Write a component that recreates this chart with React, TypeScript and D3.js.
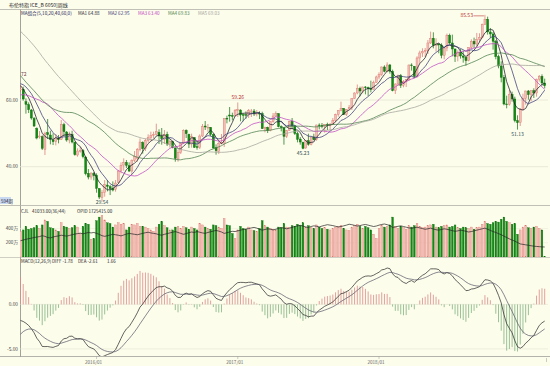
import React from 'react';
import * as d3 from 'd3';

// ---------- data (weekly, first week starts Monday 2015-06-22) ----------
const firstWeek = new Date(2015, 5, 22);

const opens = [
  63.0, 63.2, 59.5, 58.6, 57.0, 54.5, 51.5, 48.9, 49.0, 45.2,
  50.2, 49.5, 48.0, 47.6, 48.6, 48.2, 52.6, 50.4, 48.0, 49.6,
  47.3, 43.5, 44.6, 44.8, 42.9, 38.0, 36.9, 38.0, 37.4, 33.4,
  30.8, 32.3, 34.5, 34.0, 33.4, 33.2, 35.3, 38.8, 40.5, 41.3,
  40.3, 38.7, 41.9, 42.5, 45.1, 47.3, 45.4, 47.8, 48.7, 49.5,
  49.6, 50.3, 49.2, 48.2, 49.7, 46.8, 47.5, 45.6, 42.3, 44.2,
  47.0, 50.9, 49.7, 46.8, 48.7, 46.0, 45.7, 49.2, 52.2, 51.8,
  51.8, 49.6, 45.7, 44.6, 46.9, 47.1, 54.5, 55.5, 55.3, 55.3,
  56.8, 57.0, 55.6, 55.6, 55.5, 56.7, 56.7, 55.8, 56.0, 55.9,
  51.3, 51.8, 50.8, 53.5, 55.2, 55.9, 52.0, 51.7, 49.1, 50.8,
  53.6, 52.2, 49.9, 48.3, 47.3, 45.6, 47.8, 46.7, 48.9, 48.1,
  52.5, 52.4, 52.1, 52.6, 52.4, 52.8, 53.8, 55.6, 56.9, 57.5,
  55.6, 57.3, 57.8, 60.4, 62.1, 63.5, 62.7, 63.9, 63.7, 63.4,
  63.2, 65.3, 66.9, 67.6, 69.9, 68.6, 70.5, 68.6, 62.8, 64.8,
  67.3, 64.4, 65.5, 66.2, 70.5, 70.1, 67.1, 72.6, 74.1, 74.6,
  74.9, 77.1, 78.5, 76.4, 76.8, 76.5, 73.4, 75.6, 79.4, 77.1,
  75.3, 73.1, 74.3, 73.2, 72.8, 71.8, 75.8, 77.6, 76.8, 78.1,
  78.8, 82.7, 84.2, 80.4, 79.8, 77.6, 73.0, 70.2, 66.8, 58.8,
  58.7, 61.7, 60.3, 53.8, 53.2, 57.1, 60.5, 62.7, 61.6, 62.8,
  62.1, 66.25, 67.1, 65.1,
];

const highs = [
  64.5, 64.0, 60.5, 59.3, 57.3, 54.9, 51.8, 50.7, 49.4, 50.5,
  54.3, 50.8, 50.0, 49.8, 49.5, 54.0, 53.2, 50.7, 50.5, 50.8,
  47.5, 45.5, 46.0, 45.3, 43.1, 39.3, 38.3, 38.4, 38.0, 33.6,
  33.0, 36.0, 36.0, 34.5, 35.6, 36.0, 39.0, 41.3, 42.5, 42.0,
  41.3, 42.2, 44.7, 45.6, 48.5, 47.6, 48.4, 49.7, 50.5, 50.5,
  52.9, 51.2, 51.6, 51.0, 50.5, 48.2, 47.8, 46.1, 45.1, 47.3,
  51.2, 51.2, 49.9, 49.9, 48.9, 47.8, 49.7, 52.8, 53.7, 52.8,
  51.9, 49.9, 46.7, 47.6, 49.8, 54.5, 55.3, 57.9, 56.2, 57.3,
  59.26, 57.2, 56.0, 56.6, 57.3, 57.3, 57.3, 57.0, 56.6, 56.5,
  52.0, 52.0, 53.6, 56.1, 56.6, 56.0, 52.4, 51.8, 51.0, 53.7,
  54.6, 52.5, 50.5, 48.9, 47.5, 48.0, 49.9, 49.0, 49.9, 52.6,
  53.0, 53.1, 52.8, 53.2, 53.0, 54.6, 55.9, 57.0, 59.5, 57.5,
  57.3, 58.5, 60.5, 62.3, 64.65, 64.0, 64.0, 64.2, 64.0, 65.8,
  65.8, 67.3, 68.3, 70.05, 70.4, 71.3, 70.8, 69.1, 65.0, 67.6,
  67.8, 66.0, 66.3, 70.6, 71.0, 70.2, 73.1, 74.8, 75.5, 75.6,
  78.0, 80.5, 80.3, 78.5, 77.0, 77.0, 75.7, 79.9, 79.9, 79.6,
  75.4, 74.9, 75.3, 74.8, 73.0, 75.8, 78.2, 78.7, 80.1, 80.0,
  82.9, 85.53, 85.0, 81.6, 80.4, 78.0, 73.6, 71.6, 67.5, 61.3,
  63.0, 62.5, 61.0, 55.4, 57.6, 61.9, 62.8, 63.0, 62.9, 63.5,
  66.4, 67.5, 67.7, 66.4,
];

const lows = [
  62.4, 59.8, 55.9, 56.1, 54.1, 51.9, 48.2, 48.4, 45.0, 43.5,
  48.3, 46.7, 46.5, 46.4, 47.0, 48.0, 49.2, 47.5, 47.0, 47.0,
  43.3, 43.0, 44.2, 42.5, 37.4, 36.2, 36.1, 35.9, 32.2, 30.3,
  29.54, 31.0, 32.6, 31.5, 32.6, 32.5, 35.0, 38.0, 38.8, 39.6,
  38.4, 37.6, 41.4, 41.5, 44.6, 43.9, 44.7, 47.2, 47.8, 48.4,
  49.3, 46.8, 46.6, 46.8, 46.2, 45.7, 45.5, 41.5, 41.5, 43.8,
  46.8, 48.6, 45.6, 45.7, 45.6, 45.1, 45.3, 48.9, 51.0, 50.5,
  49.1, 45.4, 43.6, 43.8, 46.7, 45.9, 53.0, 53.5, 53.9, 55.1,
  54.9, 53.6, 53.6, 54.4, 54.6, 54.9, 55.2, 55.1, 54.3, 51.4,
  50.3, 50.1, 50.6, 53.2, 55.0, 51.8, 50.6, 46.6, 48.6, 50.8,
  51.2, 49.5, 47.3, 46.6, 45.23, 45.4, 46.3, 46.4, 47.9, 47.8,
  51.2, 51.5, 50.2, 51.0, 50.8, 52.5, 53.3, 55.0, 56.6, 55.5,
  55.2, 57.2, 57.0, 60.3, 61.7, 61.1, 62.0, 61.7, 61.2, 62.3,
  63.2, 65.2, 66.2, 67.2, 68.3, 68.3, 67.9, 62.6, 61.8, 64.2,
  63.6, 63.8, 63.9, 65.7, 68.8, 66.6, 66.7, 70.9, 72.9, 72.9,
  73.8, 76.8, 75.5, 74.5, 74.0, 72.5, 72.2, 74.6, 76.6, 73.1,
  71.4, 71.6, 72.4, 71.2, 70.3, 71.6, 75.4, 75.6, 76.0, 77.3,
  78.5, 82.5, 79.6, 78.6, 75.1, 72.2, 69.5, 65.3, 58.4, 57.5,
  58.3, 59.5, 53.3, 51.13, 52.2, 56.9, 58.6, 60.1, 59.6, 60.6,
  61.0, 65.5, 64.3, 63.5,
];

const closes = [
  63.3, 60.3, 58.7, 57.1, 54.6, 52.2, 48.6, 49.2, 45.5, 50.0,
  49.6, 48.1, 47.5, 48.6, 48.1, 52.7, 50.5, 48.0, 49.6, 47.4,
  43.6, 44.7, 44.9, 43.0, 37.9, 36.9, 38.1, 37.3, 33.5, 30.9,
  32.2, 34.7, 34.1, 33.4, 33.0, 35.1, 38.7, 40.4, 41.2, 40.4,
  38.7, 41.9, 43.1, 45.1, 47.4, 45.4, 47.8, 48.7, 49.3, 49.6,
  50.5, 49.2, 48.4, 49.7, 46.8, 47.6, 45.7, 42.5, 44.3, 47.0,
  50.9, 49.9, 46.8, 49.0, 45.8, 45.9, 49.2, 52.0, 51.9, 51.8,
  49.7, 45.6, 44.8, 46.9, 47.2, 54.5, 54.3, 55.2, 55.2, 56.8,
  57.1, 55.5, 55.5, 55.5, 56.8, 56.7, 55.8, 56.0, 55.9, 51.4,
  51.8, 50.8, 53.5, 55.2, 55.9, 52.0, 51.7, 49.1, 50.8, 53.6,
  52.2, 49.95, 48.2, 47.4, 45.5, 47.9, 46.7, 48.9, 48.1, 52.5,
  52.4, 52.1, 52.7, 52.4, 52.8, 53.8, 55.6, 56.9, 57.5, 55.6,
  57.2, 57.75, 60.4, 62.1, 63.5, 62.7, 63.9, 63.7, 63.4, 63.2,
  65.25, 66.9, 67.6, 69.9, 68.6, 70.5, 68.6, 62.8, 64.8, 67.3,
  64.4, 65.5, 66.2, 70.5, 70.3, 67.1, 72.6, 74.1, 74.6, 74.9,
  77.1, 78.5, 76.4, 76.8, 76.5, 73.4, 75.6, 79.4, 77.1, 75.3,
  73.1, 74.3, 73.2, 72.8, 71.8, 75.8, 77.6, 76.8, 78.1, 78.8,
  82.7, 84.2, 80.4, 79.8, 77.6, 73.0, 70.2, 66.8, 58.8, 58.7,
  61.7, 60.3, 53.8, 53.2, 57.1, 60.5, 62.7, 61.6, 62.8, 62.1,
  66.25, 67.1, 65.1, 64.3,
];

// weekly closes before the visible window (used by moving averages / MACD)
const priorCloses = [
  109.6, 108.6, 107.9, 109.8, 110.5, 108.4, 108.6, 113.0, 114.8, 113.3,
  110.6, 106.7, 107.2, 108.4, 105.0, 105.0, 103.5, 102.3, 103.2, 100.8,
  97.1, 98.4, 97.0, 92.3, 90.2, 86.2, 86.1, 85.9, 83.4, 79.4,
  80.4, 70.2, 69.1, 61.9, 61.4, 60.2, 57.3, 50.1, 50.2, 48.8,
  52.99, 57.8, 61.5, 60.2, 62.6, 59.7, 54.7, 55.3, 56.4, 54.95,
  57.9, 63.45, 65.3, 66.5, 65.4, 66.8, 65.4, 65.6, 63.3, 63.9,
];

// volume, 万 lots
const volumes = [
  360, 380, 430, 390, 400, 410, 440, 400, 450, 520,
  500, 410, 400, 380, 360, 480, 430, 420, 400, 410,
  440, 420, 330, 430, 470, 460, 250, 260, 510, 560,
  580, 520, 480, 470, 420, 450, 480, 460, 470, 380,
  420, 460, 450, 470, 430, 430, 420, 400, 380, 360,
  420, 460, 500, 440, 410, 380, 380, 420, 430, 400,
  430, 410, 390, 420, 400, 380, 470, 450, 420, 400,
  390, 450, 440, 420, 400, 540, 450, 440, 330, 260,
  380, 430, 400, 390, 420, 380, 370, 360, 400, 510,
  440, 420, 400, 390, 380, 420, 410, 470, 420, 410,
  440, 430, 460, 440, 480, 420, 440, 410, 400, 450,
  420, 400, 410, 390, 380, 400, 420, 430, 440, 400,
  380, 370, 420, 440, 460, 430, 400, 430, 410, 380,
  320, 260, 400, 440, 420, 430, 450, 560, 430, 400,
  430, 410, 390, 440, 420, 440, 470, 430, 410, 420,
  440, 450, 460, 420, 410, 430, 440, 450, 420, 430,
  450, 410, 400, 420, 410, 400, 420, 390, 410, 420,
  460, 500, 470, 460, 480, 500, 490, 530, 560, 500,
  480, 460, 470, 320, 380, 420, 440, 410, 400, 420,
  430, 400, 380, 4.1,
];

// open interest, 万 lots
const openInterest = [
  200, 203, 206, 209, 211, 214, 216, 218, 222, 219,
  214, 212, 216, 219, 221, 224, 222, 220, 223, 226,
  229, 231, 233, 230, 233, 236, 234, 236, 232, 228,
  222, 219, 222, 225, 228, 226, 224, 221, 225, 229,
  232, 230, 228, 226, 229, 232, 235, 237, 234, 232,
  230, 226, 224, 228, 231, 234, 237, 240, 236, 232,
  228, 231, 235, 238, 236, 240, 237, 234, 232, 236,
  239, 242, 245, 242, 238, 232, 235, 238, 241, 240,
  243, 246, 249, 251, 253, 256, 258, 255, 250, 246,
  249, 252, 250, 247, 250, 254, 257, 255, 252, 255,
  258, 262, 265, 267, 264, 260, 258, 262, 265, 263,
  260, 264, 267, 270, 268, 266, 263, 260, 262, 265,
  268, 272, 270, 267, 264, 266, 269, 271, 268, 265,
  262, 264, 268, 271, 273, 270, 266, 258, 260, 263,
  265, 262, 259, 256, 254, 257, 259, 256, 253, 250,
  252, 255, 251, 248, 246, 249, 252, 250, 247, 244,
  241, 243, 246, 244, 241, 238, 240, 243, 246, 249,
  252, 255, 250, 245, 240, 236, 231, 226, 220, 214,
  208, 203, 198, 192, 186, 184, 182, 180, 178, 176,
  175, 174, 173, 172.5,
];

const maPeriods = [5, 10, 20, 40, 60];
const maColors = ['#1c1c2c', '#3b3b78', '#c048c0', '#4a7e4a', '#a3a39a'];
const maLegend = ['MA1 64.88', 'MA2 62.95', 'MA3 63.40', 'MA4 69.83', 'MA5 69.03'];
const priceTicks = [60, 40];
const volumeTicks = [400, 200];
const macdTicks = [0, -5];
const yearTicks = ['2016/01', '2017/01', '2018/01'];
const priceMarks = [
  { idx: 171, text: '85.53', kind: 'high' },
  { idx: 80, text: '59.26', kind: 'high' },
  { idx: 104, text: '45.23', kind: 'low' },
  { idx: 183, text: '51.13', kind: 'low' },
  { idx: 30, text: '29.54', kind: 'low' },
];

// ---------- derived ----------
const N = closes.length;
const P = priorCloses.length;
const allCloses = [...priorCloses, ...closes];
const dates = d3.range(N).map((i) => d3.timeMonday.offset(firstWeek, i));

function sma(n: number) {
  return d3.range(N).map((i) => d3.mean(allCloses.slice(P + i - n + 1, P + i + 1)) as number);
}
function ema(src: number[], n: number) {
  const k = 2 / (n + 1);
  const out: number[] = [];
  src.forEach((v, i) => out.push(i === 0 ? v : out[i - 1] + k * (v - out[i - 1])));
  return out;
}
const ema12 = ema(allCloses, 12);
const ema26 = ema(allCloses, 26);
const diffAll = ema12.map((v, i) => v - ema26[i]);
const deaAll = ema(diffAll, 9);
const diff = diffAll.slice(P);
const dea = deaAll.slice(P);
const hist = diff.map((v, i) => 2 * (v - dea[i]));

const FONT = '"Noto Sans CJK SC", "Noto Sans", sans-serif';

export default function App() {
  const W = 550, H = 366;
  const left = 20, right = 548;
  const x = d3.scaleLinear().domain([0, N - 1]).range([20.5, 20.5 + (N - 1) * 2.716]);
  const bw = 2.0;
  const vbw = 1.7;
  const yP = d3.scaleLinear().domain([40, 60]).range([166.7, 100]);
  const yV = d3.scaleLinear().domain([0, 400]).range([257, 228.5]);
  const oiExt = d3.extent(openInterest) as [number, number];
  const yOI = d3.scaleLinear().domain(oiExt).range([247, 224]);
  const mExt = d3.extent([...diff, ...dea, ...hist]) as [number, number];
  const yM = d3.scaleLinear().domain(mExt).range([357, 268]);

  const maSeries = maPeriods.map((n) => sma(n));
  const line = (ys: (v: number) => number) =>
    d3.line<number>().x((_, i) => x(i)).y((v) => ys(v));

  const fmt = d3.timeFormat('%Y/%m');
  const yearIdx = yearTicks
    .map((t) => d3.range(N).find((i) => fmt(dates[i]) === t) as number)
    .filter((i) => i !== undefined);

  const up = (i: number) => closes[i] >= opens[i];
  const upFill = '#f3bdb5', upStroke = '#d9736b', dnFill = '#118a11', dnStroke = '#0b6b0b';

  return (
    <div style={{ position: 'absolute', left: 0, top: 0 }}>
      <svg width={W} height={H} style={{ display: 'block', fontFamily: FONT }}>
        <defs>
          <clipPath id="cMain"><rect x={left} y={10} width={right - left} height={195} /></clipPath>
          <clipPath id="cVol"><rect x={left} y={214} width={right - left} height={43} /></clipPath>
          <clipPath id="cMacd"><rect x={left} y={265} width={right - left} height={91} /></clipPath>
        </defs>
        <rect x={0} y={0} width={W} height={H} fill="#fdfdec" />

        {/* frame lines */}
        <line x1={0} x2={W} y1={9.5} y2={9.5} stroke="#b0b0a8" strokeWidth={0.8} />
        <line x1={left + 0.5} x2={left + 0.5} y1={9.5} y2={357} stroke="#8a8a86" strokeWidth={0.8} />
        <line x1={0} x2={W} y1={205.5} y2={205.5} stroke="#b0b0a8" strokeWidth={0.8} />
        <line x1={0} x2={W} y1={257.5} y2={257.5} stroke="#b0b0a8" strokeWidth={0.6} />
        <line x1={0} x2={W} y1={356.5} y2={356.5} stroke="#a0a09a" strokeWidth={0.8} />

        {/* title & legend */}
        <text x={9} y={7} fontSize={5} fill="#222">布伦特指 ICE_B 6050]周线</text>
        <text x={21} y={15} fontSize={4.6} fill="#202050">MA组合(5,10,20,40,60,0)</text>
        {maLegend.map((t, i) => (
          <text key={t} x={78 + i * 30} y={15} fontSize={4.6} fill={maColors[i]}>{t}</text>
        ))}

        {/* main grid + ticks */}
        {priceTicks.map((p) => (
          <g key={p}>
            <line x1={left} x2={right} y1={yP(p)} y2={yP(p)} stroke="#e4e4d4" strokeWidth={0.8} />
            <text x={18} y={yP(p) + 1.7} fontSize={4.8} textAnchor="end" fill="#444">{p.toFixed(2)}</text>
          </g>
        ))}

        {/* candles */}
        <g clipPath="url(#cMain)">
          {closes.map((c, i) => {
            const u = up(i);
            const top = yP(Math.max(opens[i], c));
            const bot = yP(Math.min(opens[i], c));
            return (
              <g key={i}>
                <line x1={x(i)} x2={x(i)} y1={yP(highs[i])} y2={yP(lows[i])} stroke={u ? upStroke : dnStroke} strokeWidth={0.7} />
                <rect x={x(i) - bw / 2} y={top} width={bw} height={Math.max(0.7, bot - top)}
                  fill={u ? upFill : dnFill} stroke={u ? upStroke : dnStroke} strokeWidth={0.4} />
              </g>
            );
          })}
          {maSeries.map((s, k) => (
            <path key={k} d={line(yP)(s) as string} fill="none" stroke={maColors[k]} strokeWidth={0.75} />
          ))}
        </g>

        {/* price annotations */}
        <text x={21} y={75.5} fontSize={5} fill="#6a3a3a">72</text>
        {priceMarks.map((m) => {
          if (m.idx === 171) {
            const yy = yP(highs[m.idx]);
            return (
              <g key={m.text}>
                <text x={x(m.idx) - 12} y={yy + 2.5} fontSize={5} textAnchor="end" fill="#b83030">{m.text}</text>
                <line x1={x(m.idx) - 11.5} x2={x(m.idx) - 1} y1={yy + 1} y2={yy + 1} stroke="#b83030" strokeWidth={0.6} />
              </g>
            );
          }
          const yy = m.kind === 'high' ? yP(highs[m.idx]) - 3 : Math.min(yP(lows[m.idx]) + 6, 204);
          return (
            <text key={m.text} x={x(m.idx)} y={yy} fontSize={5} textAnchor="middle"
              fill={m.kind === 'high' ? '#b83030' : '#2f4f4f'}>{m.text}</text>
          );
        })}

        {/* volume panel */}
        <rect x={0} y={197} width={11} height={7} fill="#c9d9f2" />
        <text x={1} y={202.5} fontSize={4.5} fill="#223">594周</text>
        <text x={21} y={212.5} fontSize={4.5} fill="#222">CJL</text>
        <text x={32} y={212.5} fontSize={4.5} fill="#222">41033.00(36/44)</text>
        <text x={77} y={212.5} fontSize={4.5} fill="#222">OPID 1725415.00</text>
        {volumeTicks.map((v) => (
          <g key={v}>
            <line x1={left} x2={right} y1={yV(v)} y2={yV(v)} stroke="#ececdc" strokeWidth={0.6} />
            <text x={18} y={yV(v) + 1.7} fontSize={4.6} textAnchor="end" fill="#444">{v}万</text>
          </g>
        ))}
        <g clipPath="url(#cVol)">
          {volumes.map((v, i) => (
            <rect key={i} x={x(i) - vbw / 2} y={yV(v)} width={vbw} height={yV(0) - yV(v)}
              fill={up(i) ? upFill : dnFill} stroke={up(i) ? upStroke : dnStroke} strokeWidth={0.35} />
          ))}
          <path d={line(yOI)(openInterest) as string} fill="none" stroke="#222" strokeWidth={0.7} />
        </g>

        {/* MACD panel */}
        <text x={21} y={263} fontSize={4.5} fill="#222">MACD(12,26,9)</text>
        <text x={52} y={263} fontSize={4.5} fill="#222">DIFF -1.78</text>
        <text x={78} y={263} fontSize={4.5} fill="#222">DEA -2.61</text>
        <text x={107} y={263} fontSize={4.5} fill="#222">1.66</text>
        {macdTicks.map((v) => (
          <g key={v}>
            <line x1={left} x2={right} y1={yM(v)} y2={yM(v)} stroke="#e4e4d4" strokeWidth={0.6} />
            <text x={18} y={yM(v) + 1.7} fontSize={4.8} textAnchor="end" fill="#444">{v.toFixed(2)}</text>
          </g>
        ))}
        <g clipPath="url(#cMacd)">
          {hist.map((h, i) => (
            <line key={i} x1={x(i)} x2={x(i)} y1={yM(0)} y2={yM(h)}
              stroke={h >= 0 ? '#d98a8a' : '#7fb27f'} strokeWidth={0.8} />
          ))}
          <path d={line(yM)(diff) as string} fill="none" stroke="#222" strokeWidth={0.7} />
          <path d={line(yM)(dea) as string} fill="none" stroke="#555566" strokeWidth={0.7} />
        </g>

        {/* x axis labels */}
        {yearIdx.map((i) => (
          <g key={i}>
            <line x1={x(i)} x2={x(i)} y1={356.5} y2={359} stroke="#999" strokeWidth={0.5} />
            <text x={x(i) - 3} y={364} fontSize={4.6} textAnchor="middle" fill="#666">{fmt(dates[i])}</text>
          </g>
        ))}
        <line x1={546.5} x2={546.5} y1={358} y2={362} stroke="#999" strokeWidth={0.5} />
      </svg>
    </div>
  );
}
